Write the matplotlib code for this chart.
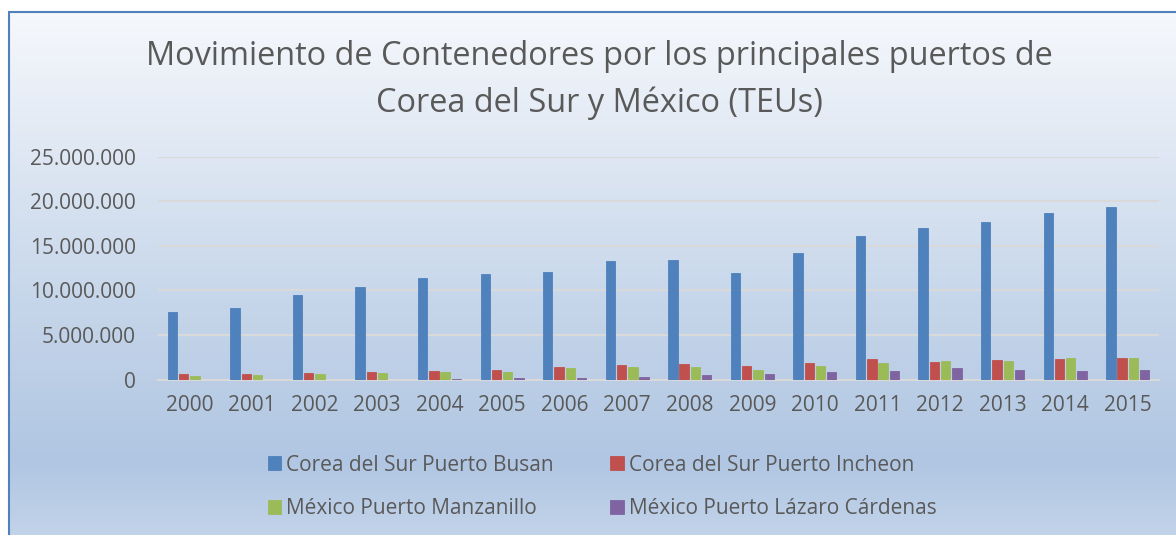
import numpy as np
import matplotlib.pyplot as plt
from matplotlib.colors import LinearSegmentedColormap
from matplotlib.patches import Rectangle
from matplotlib.ticker import FuncFormatter

# Datos (TEUs)
years = ['2000', '2001', '2002', '2003', '2004', '2005', '2006', '2007',
         '2008', '2009', '2010', '2011', '2012', '2013', '2014', '2015']
busan = [7.55e6, 8.07e6, 9.45e6, 10.4e6, 11.39e6, 11.84e6, 12.03e6, 13.27e6,
         13.38e6, 11.95e6, 14.2e6, 16.1e6, 17.0e6, 17.7e6, 18.65e6, 19.4e6]
incheon = [0.58e6, 0.62e6, 0.73e6, 0.84e6, 0.95e6, 1.1e6, 1.37e6, 1.63e6,
           1.74e6, 1.52e6, 1.89e6, 2.31e6, 1.98e6, 2.17e6, 2.32e6, 2.4e6]
manzanillo = [0.4e6, 0.47e6, 0.62e6, 0.73e6, 0.84e6, 0.87e6, 1.25e6, 1.41e6,
              1.41e6, 1.1e6, 1.51e6, 1.8e6, 2.06e6, 2.13e6, 2.4e6, 2.43e6]
lazaro = [0, 0, 0, 0, 0.04e6, 0.13e6, 0.16e6, 0.28e6,
          0.5e6, 0.58e6, 0.84e6, 0.97e6, 1.27e6, 1.09e6, 1.0e6, 1.09e6]

series = [
    ('Corea del Sur Puerto Busan', busan, '#4f81bd'),
    ('Corea del Sur Puerto Incheon', incheon, '#c0504d'),
    ('México Puerto Manzanillo', manzanillo, '#9bbb59'),
    ('México Puerto Lázaro Cárdenas', lazaro, '#8064a2'),
]

TXT = '#595959'
plt.rcParams['font.family'] = ['Open Sans', 'DejaVu Sans']

fig = plt.figure(figsize=(11.76, 5.35), dpi=100)

# fondo degradado con marco
bg = fig.add_axes([0, 0, 1, 1], zorder=-10)
bg.set_axis_off()
bg.set_xlim(0, 1)
bg.set_ylim(0, 1)
cmap = LinearSegmentedColormap.from_list(
    'fondo', [(0, '#f6f8fc'), (0.55, '#c6d6ea'), (0.85, '#b0c6e2'), (1, '#c3d4ea')])
grad = np.linspace(0, 1, 256).reshape(-1, 1)
x0, y1 = 9 / 1176, 1 - 12 / 535
bg.imshow(grad, cmap=cmap, aspect='auto', extent=[x0, 1.01, -0.01, y1], origin='upper')
bg.add_patch(Rectangle((x0, -0.01), 1.1, y1 + 0.01, fill=False, ec='#4f81bd', lw=1.5))

ax = fig.add_axes([158 / 1176, 1 - 379.5 / 535, 1001 / 1176, 222.8 / 535])
ax.patch.set_alpha(0)

x = np.arange(len(years))
width = 0.15
step = 0.18
handles = []
for i, (name, vals, color) in enumerate(series):
    b = ax.bar(x + (i - 1.5) * step, vals, width, color=color,
               edgecolor=color, linewidth=0.6, label=name, zorder=3)
    handles.append(b)

ax.set_xlim(-0.5, len(years) - 0.5)
ax.set_ylim(0, 25e6)
ax.set_yticks(np.arange(0, 25e6 + 1, 5e6))
ax.yaxis.set_major_formatter(FuncFormatter(lambda v, p: f'{int(v):,}'.replace(',', '.')))
ax.set_xticks(x)
ax.set_xticklabels(years)
ax.grid(axis='y', color='#d9d9d9', lw=1.5, zorder=0)
for s in ['top', 'right', 'left']:
    ax.spines[s].set_visible(False)
ax.spines['bottom'].set_color('#d9d9d9')
ax.spines['bottom'].set_linewidth(1.5)
ax.tick_params(length=0, labelsize=15, colors=TXT)
ax.tick_params(axis='x', pad=11)
ax.tick_params(axis='y', pad=16)

fig.text(0.51, 1 - 57 / 535, 'Movimiento de Contenedores por los principales puertos de',
         ha='center', va='center', fontsize=23.4, color=TXT)
fig.text(0.51, 1 - 103 / 535, 'Corea del Sur y México (TEUs)',
         ha='center', va='center', fontsize=23.4, color=TXT)

# orden por filas como en Excel
order = [0, 2, 1, 3]
fig.legend(handles=[handles[k] for k in order], loc='center',
           bbox_to_anchor=(0.512, 1 - 487 / 535),
           ncol=2, frameon=False, fontsize=15, labelcolor=TXT,
           handlelength=0.65, handleheight=0.65, handletextpad=0.25,
           columnspacing=2.7, labelspacing=1.1)

fig.savefig('out.png', dpi=100)
